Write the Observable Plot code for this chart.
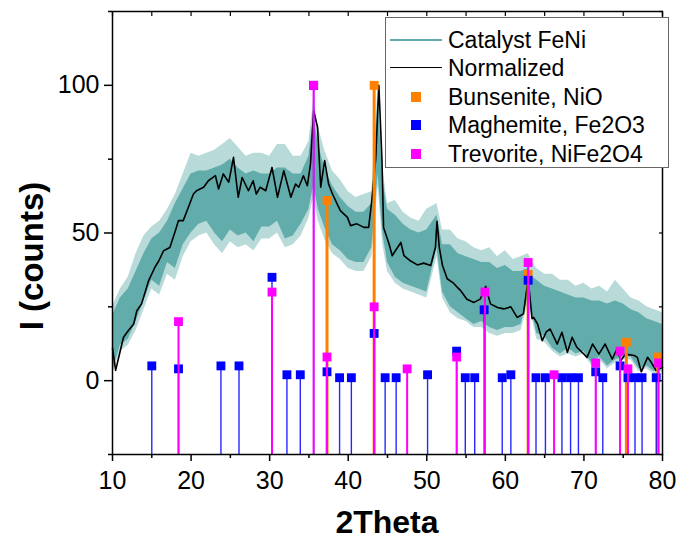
<!DOCTYPE html>
<html><head><meta charset="utf-8">
<script src="https://cdn.jsdelivr.net/npm/d3@7"></script>
<script src="https://cdn.jsdelivr.net/npm/@observablehq/plot@0.6"></script>
<style>
body{margin:0;background:#fff;}
#wrap{position:relative;width:676px;height:541px;font-family:"Liberation Sans",Arial,sans-serif;}
#legend{position:absolute;left:385px;top:17px;width:284px;height:151px;border:1.5px solid #666;background:#fff;box-sizing:border-box;}
.row{position:absolute;left:0;height:28px;width:100%;}
.row .lbl{position:absolute;left:62px;top:0;font-size:23px;line-height:28px;color:#000;white-space:nowrap;}
.row .ln{position:absolute;left:4px;width:52px;top:13px;height:0;}
.row .mk{position:absolute;left:25px;top:9px;width:10px;height:10px;}
</style></head><body><div id="wrap"></div>
<script>
// ---------- data ----------
// Raw pattern "Catalyst FeNi": noisy band, read as dense-core edges and spike extremes
const bandTheta = [10,11,12,13,14,15,16,17,18,19,20,21,22,23,24,25,26,27,28,29,30,31,32,33,34,35,35.6,36.2,37,38,39,40,41,42,43,43.8,44.4,45,46,47,48,49,50,51.3,52,53,54,55,56,57,58,59,60,61,62,62.9,63.5,64,65,66,67,68,69,70,71,72,73,74,75,76,77,78,79,80];
const bandLow   = [3,12,14,20,27,34,32,40,38,46,50,53,54,50,47,51,49,50,47,52,52,54,48,49,53,58,66,58,52,46,44,41,40,40,45,70,50,40,35,33,32,31,30,45,30,25,23,21,19,20,18,17,18,18,19,28,22,16,15,11,9,11,9,10,6,8,5,7,8,8,4,5,3,4];
const bandHigh  = [22,28,31,37,43,48,50,54,60,65,70,71,71,72,73,75,72,70,71,70,70,72,72,70,70,76,90,80,72,66,62,59,57,57,60,96,68,58,56,53,51,50,51,56,46,46,43,42,41,40,40,38,39,37,37,38,35,34,32,31,30,29,28,28,27,27,26,27,26,24,23,21,20,19];
const spikeLow  = [2,10,12,17,24,31,29,36,34,42,47,49,50,46,43,47,45,46,44,48,48,50,45,46,49,55,62,54,48,43,41,38,37,37,42,66,46,37,33,31,30,29,28,42,28,23,21,20,18,18,16,15,16,16,17,26,20,14,13,10,8,9,8,9,5,7,4,6,7,7,3,4,2,3];
const spikeHigh = [25,31,35,43,49,52,54,58,63,70,77,76,77,78,80,82,79,76,77,77,76,80,80,76,76,81,95,86,78,71,68,64,62,63,64,100,72,60,61,57,55,54,58,60,51,51,48,47,45,44,45,42,44,41,42,43,40,38,36,36,34,34,32,33,31,32,30,34,31,28,27,25,24,23];

// "Normalized" (smoothed) curve
const normTheta = [10.0,10.4,10.8,11.4,12.0,12.7,13.1,13.7,14.6,15.4,15.9,16.5,17.3,18.0,18.4,19.0,19.5,20.3,20.7,21.6,22.2,23.1,23.5,24.1,24.8,25.4,26.0,26.5,27.3,27.9,28.3,28.8,29.5,30.3,31.0,31.8,32.7,33.3,33.7,34.3,34.8,35.2,35.6,36.1,36.5,37.0,37.5,38.0,38.6,39.0,39.9,40.3,41.1,42.0,42.6,43.0,43.5,43.9,44.3,44.5,45.2,45.6,46.0,46.7,47.1,47.9,48.8,49.6,50.5,51.1,51.3,51.6,52.0,52.6,53.4,54.3,55.1,56.0,56.8,57.5,58.1,59.0,59.8,60.7,61.5,62.3,62.9,63.4,63.6,64.1,64.7,65.2,65.7,66.6,67.2,67.9,68.5,69.1,70.0,70.4,71.1,71.9,72.7,73.6,74.2,74.7,75.3,76.4,76.8,77.3,78.1,78.5,79.2,80.0];
const normValue = [11,3.5,8,14.7,16.9,19.2,23.7,26,33.9,38.4,40.6,44,45.1,50.8,54.2,54.2,57.6,63.2,64.3,65.5,67.7,69.4,64.9,70,67.2,75.6,62.1,68.8,64.3,67.7,63.2,65.5,64.3,72.2,62.1,71.1,62.1,66.6,65.5,69.4,66,73.4,91.4,85.8,65.5,74.5,66.6,63.2,59.8,57.6,55.3,52.5,53.1,51.9,51.9,61,75,100,74.5,51.9,46.3,42.3,44,46.8,42.3,40.6,39.2,39.8,39,45.1,54,45,39,34.5,33,30.5,27.6,26.5,27.6,31.9,26,24.8,24.3,25,21.4,22.6,34.5,21,21.4,19.2,13.5,16.5,17.5,12.4,16.4,9.6,14.7,11.3,9,7.9,12.4,9,12.4,7.3,10.7,6.8,9,8.5,7.9,3,7.9,6.5,3.4,4.5];

// Reference phases (2Theta, relative intensity)
const bunseniteTheta = [37.3,43.3,62.9,75.4,79.4];
const bunseniteValue = [61,100,36,13,8];

const maghemiteTheta = [15.0,18.4,23.8,26.1,30.3,32.2,33.9,35.6,37.3,38.9,40.4,43.3,44.7,46.1,50.1,53.8,54.9,56.1,57.3,59.6,60.7,62.9,63.9,65.1,67.2,68.3,69.3,71.5,72.4,74.6,75.6,76.5,77.4,79.2];
const maghemiteValue = [5,4,5,5,35,2,2,100,3,1,1,16,1,1,2,10,1,1,24,1,2,34,1,1,1,1,1,3,1,5,1,1,1,1];

const trevoriteTheta = [18.4,30.3,35.6,37.3,43.3,47.5,53.8,57.4,62.9,66.2,71.5,74.6,75.6,79.5];
const trevoriteValue = [20,30,100,8,25,4,8,30,40,2,6,10,4,6];

const xMajor = [10,20,30,40,50,60,70,80];
const xMinor = [15,25,35,45,55,65,75];
const yMajor = [0,50,100];
const yMinor = [-25,25,75,125];

const legendLabels = ["Catalyst FeNi","Normalized","Bunsenite, NiO","Maghemite, Fe2O3","Trevorite, NiFe2O4"];

// ---------- styles ----------
const TEAL = "#62adab", ORANGE = "#ff8000", BLUE = "#0000ff", MAGENTA = "#ff00ff";
const yMin = -25, yMax = 125;
const FONT = "'Liberation Sans', Arial, sans-serif";

const band = bandTheta.map((t,i)=>({t, lo:bandLow[i], hi:bandHigh[i], slo:spikeLow[i], shi:spikeHigh[i]}));
const norm = normTheta.map((t,i)=>({t, v:normValue[i]}));
const mk = (T,V)=>T.map((t,i)=>({t, v:V[i]}));
const buns = mk(bunseniteTheta,bunseniteValue);
const magh = mk(maghemiteTheta,maghemiteValue);
const trev = mk(trevoriteTheta,trevoriteValue);

const R = 5; // square marker "radius"

const chart = Plot.plot({
  width:676, height:541,
  marginLeft:112, marginRight:14, marginTop:11, marginBottom:87,
  x:{domain:[10,80]},
  y:{domain:[yMin,yMax]},
  style:{fontFamily:FONT, fontSize:"25px", color:"#000", background:"#fff", overflow:"visible"},
  marks:[
    Plot.areaY(band,{x:"t", y1:"slo", y2:"shi", fill:TEAL, fillOpacity:0.45}),
    Plot.areaY(band,{x:"t", y1:"lo", y2:"hi", fill:TEAL}),
    Plot.lineY(norm,{x:"t", y:"v", stroke:"#000", strokeWidth:1.6}),
    Plot.ruleX(buns,{x:"t", y1:yMin, y2:"v", stroke:ORANGE, strokeWidth:3}),
    Plot.dot(buns,{x:"t", y:"v", symbol:"square", r:R, fill:ORANGE}),
    Plot.ruleX(magh,{x:"t", y1:yMin, y2:"v", stroke:BLUE, strokeWidth:1.4, strokeOpacity:0.85}),
    Plot.dot(magh,{x:"t", y:"v", symbol:"square", r:R, fill:BLUE}),
    Plot.ruleX(trev,{x:"t", y1:yMin, y2:"v", stroke:MAGENTA, strokeWidth:2}),
    Plot.dot(trev,{x:"t", y:"v", symbol:"square", r:R, fill:MAGENTA}),
    Plot.frame({stroke:"#000", strokeWidth:1.5}),
    Plot.axisX({ticks:xMajor, tickSize:7, tickPadding:10, fontSize:25, label:null, strokeWidth:1.5}),
    Plot.axisX({ticks:xMinor, tickSize:4, tickFormat:()=>"", label:null, strokeWidth:1.5}),
    Plot.axisX({anchor:"top", ticks:xMajor.concat(xMinor), tickSize:-4, tickFormat:()=>"", label:null, strokeWidth:1.2}),
    Plot.axisY({ticks:yMajor, tickSize:8, tickPadding:5, fontSize:25, label:null, strokeWidth:1.5}),
    Plot.axisY({ticks:yMinor, tickSize:4, tickFormat:()=>"", label:null, strokeWidth:1.5}),
    Plot.axisY({anchor:"right", ticks:yMajor.concat(yMinor), tickSize:-4, tickFormat:()=>"", label:null, strokeWidth:1.2})
  ]
});

const wrap = document.getElementById("wrap");
wrap.appendChild(chart);

// axis titles
const svg = d3.select(chart);
svg.append("text").attr("x",387).attr("y",533).attr("text-anchor","middle")
  .attr("font-family",FONT).attr("font-weight","bold").attr("font-size",32).text("2Theta");
svg.append("text").attr("transform","translate(43,256) rotate(-90)").attr("text-anchor","middle")
  .attr("font-family",FONT).attr("font-weight","bold").attr("font-size",33).text("I (counts)");

// legend
const leg = document.createElement("div");
leg.id = "legend";
const rowTops = [8,36,65,93,122];
const sym = [
  {type:"line", color:TEAL, w:2},
  {type:"line", color:"#000", w:1.5},
  {type:"sq", color:ORANGE},
  {type:"sq", color:BLUE},
  {type:"sq", color:MAGENTA}
];
legendLabels.forEach((txt,i)=>{
  const r = document.createElement("div");
  r.className="row"; r.style.top = rowTops[i]+"px";
  const s = document.createElement("div");
  if(sym[i].type==="line"){ s.className="ln"; s.style.borderTop = sym[i].w+"px solid "+sym[i].color; }
  else { s.className="mk"; s.style.background = sym[i].color; }
  r.appendChild(s);
  const l = document.createElement("div");
  l.className="lbl"; l.textContent = txt;
  r.appendChild(l);
  leg.appendChild(r);
});
wrap.appendChild(leg);
</script></body></html>
